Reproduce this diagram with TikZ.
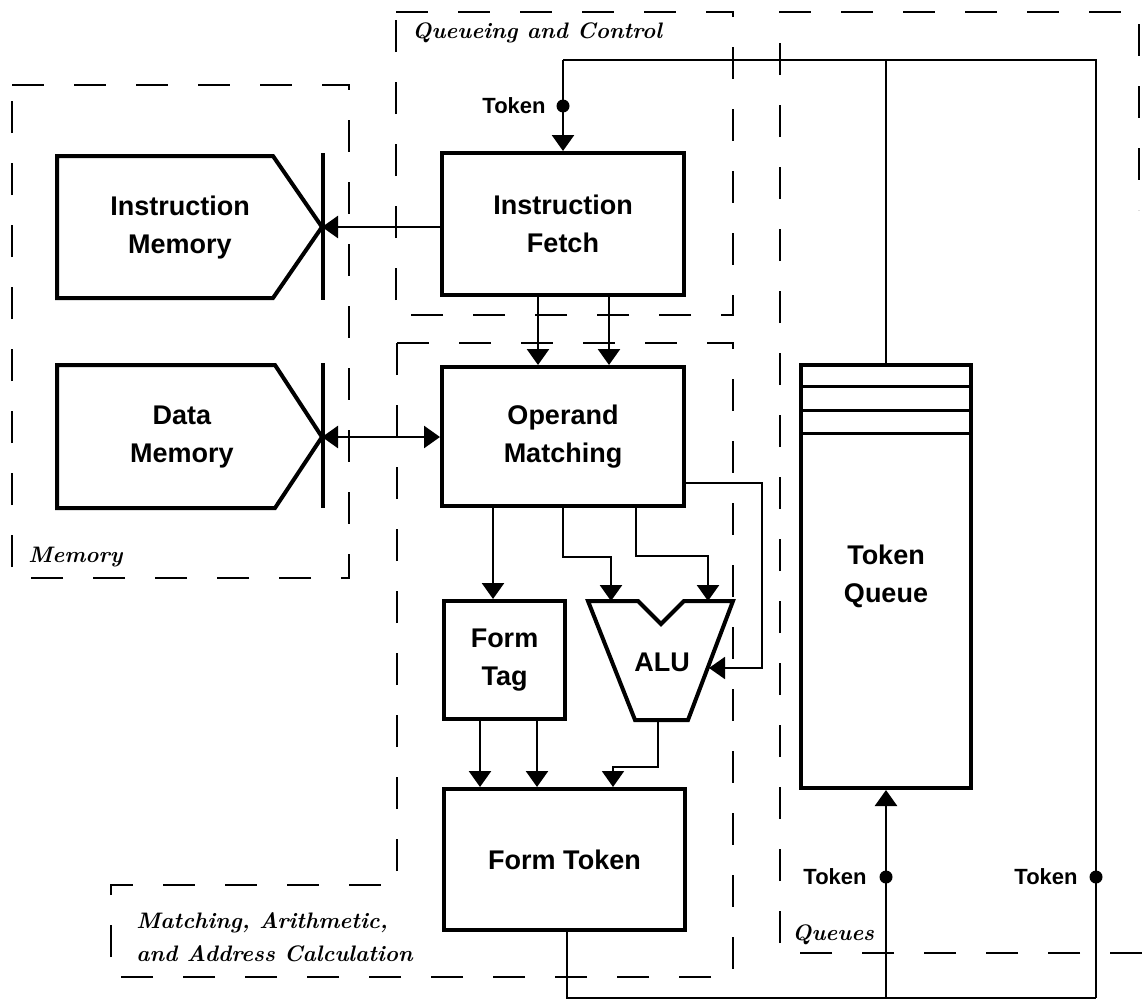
\documentclass[tikz,border=0pt]{standalone}
\usepackage{fontspec}
\newfontfamily\lab{Liberation Sans}
\usetikzlibrary{arrows.meta}
\tikzset{
 blkfont/.style={font=\lab\bfseries\fontsize{13.5}{19}\selectfont, align=center, inner sep=0pt},
 blk/.style={draw, line width=2pt, blkfont},
 shp/.style={draw, line width=2pt, line join=miter},
 grp/.style={draw, line width=1.4pt, dash pattern=on 16pt off 15pt},
 tip/.style={-{Triangle[length=8pt,width=11pt]}},
 con/.style={line width=1.3pt, tip},
 con2/.style={line width=1.3pt, {Triangle[length=8pt,width=11pt]}-{Triangle[length=8pt,width=11pt]}},
 wire/.style={line width=1.3pt},
 thinw/.style={line width=1pt},
 glab/.style={font=\fontsize{11.2}{16.5}\selectfont\bfseries\itshape, inner sep=0pt, anchor=west, align=left},
 tlab/.style={font=\lab\bfseries\fontsize{11}{12}\selectfont, inner sep=0pt, anchor=east},
 dot/.style={circle, fill, inner sep=0pt, minimum size=6.5pt},
}
\begin{document}
\begin{tikzpicture}[x=0.5pt,y=-0.5pt]
\path[use as bounding box] (0,0) rectangle (1142,1001);

% group boxes
\draw[grp] (12,85) -- (349,85) -- (349,578) -- (12,578) -- cycle;
\draw[grp] (396,12) -- (733,12) -- (733,315) -- (396,315) -- cycle;
\draw[grp] (397,343) -- (733,343) -- (733,977) -- (111,977) -- (111,885) -- (397,885) -- cycle;
\draw[grp] (1142,953) -- (780,953) -- (780,12) -- (1139,12) -- (1139,210);

\node[glab] (lqc) at (412,33) {Queueing and Control};
\node[glab] (lmem) at (28,557) {Memory};
\node[glab] (lmat) at (136,937) {Matching, Arithmetic,\\and Address Calculation};
\node[glab] (lque) at (792,935) {Queues};

% memories
\draw[shp] (57,156) -- (273,156) -- (322,227) -- (273,298) -- (57,298) -- cycle;
\draw[line width=2pt] (323,153) -- (323,300);
\node[blkfont] (imem) at (180,228) {Instruction\\Memory};
\coordinate (imtip) at (322,227);

\draw[shp] (57,365) -- (275,365) -- (322,437) -- (275,508) -- (57,508) -- cycle;
\draw[line width=2pt] (323,363) -- (323,508);
\node[blkfont] (dmem) at (182,437) {Data\\Memory};
\coordinate (dmtip) at (322,437);

% blocks
\node[blk, minimum width=121pt, minimum height=71pt] (if) at (563,224) {Instruction\\Fetch};
\node[blk, minimum width=121pt, minimum height=69.5pt] (om) at (563,436.5) {Operand\\Matching};
\node[blk, minimum width=60.5pt, minimum height=59pt] (tag) at (504.5,660) {Form\\Tag};
\node[blk, minimum width=120.5pt, minimum height=70.5pt] (ftok) at (564.5,859.5) {Form Token};
\node[blk, minimum width=85pt, minimum height=211.5pt] (tq) at (886,576.5) {Token\\Queue};
\foreach \d in {11.5,23.5,35}
  \draw[line width=1.5pt] ([yshift=-\d pt]tq.north west) -- ([yshift=-\d pt]tq.north east);

% ALU
\draw[shp] (588,601) -- (638,601) -- (661,624) -- (684,601) -- (733,601) -- (688,720) -- (635,720) -- cycle;
\node[blkfont] (alu) at (662,662) {ALU};
\coordinate (aluA) at (611,601);
\coordinate (aluB) at (708,601);
\coordinate (aluR) at (709,668);
\coordinate (aluO) at (658,720);

% connectors
\draw[con] (if.west |- imtip) -- (imtip);
\draw[con2] (om.west |- dmtip) -- (dmtip);
\draw[con] ([xshift=-12.5pt]if.south) -- ([xshift=-12.5pt]om.north);
\draw[con] ([xshift=23pt]if.south) -- ([xshift=23pt]om.north);
\draw[con] ([xshift=-35pt]om.south) -- ([xshift=-35pt]om.south |- tag.north);
\draw[con] (om.south) -- ++(0,49) -| (aluA);
\draw[con] ([xshift=36.5pt]om.south) -- ++(0,48) -| (aluB);
\draw[thinw, tip] ([yshift=-23.25pt]om.east) -- ++(76,0) |- (aluR);
\draw[con] ([xshift=-12.25pt]tag.south) -- ([xshift=-12.25pt]tag.south |- ftok.north);
\draw[con] ([xshift=16.25pt]tag.south) -- ([xshift=16.25pt]tag.south |- ftok.north);
\draw[thinw, tip] (aluO) -- ++(0,47) -| ([xshift=24.25pt]ftok.north);

% token loop
\coordinate (bl) at (567,998);
\coordinate (br) at (1096,998);
\coordinate (tr) at (1096,60);
\coordinate (tl) at (563,60);
\draw[thinw] (ftok.south -| bl) -- (bl) -- (br);
\draw[wire] (br) -- (tr) -- (tl);
\draw[con] (tl) -- (if.north -| tl);
\draw[wire] (tq.north) -- (tq.north |- tl);
\draw[con] (tq.south |- bl) -- (tq.south);

% token dots
\node[dot] (d1) at (563,106) {};
\node[dot] (d2) at (886,877) {};
\node[dot] (d3) at (1096,877) {};
\node[tlab] (t1) at (546,106) {Token};
\node[tlab] (t2) at (867,877) {Token};
\node[tlab] (t3) at (1078,877) {Token};
\end{tikzpicture}
\end{document}
